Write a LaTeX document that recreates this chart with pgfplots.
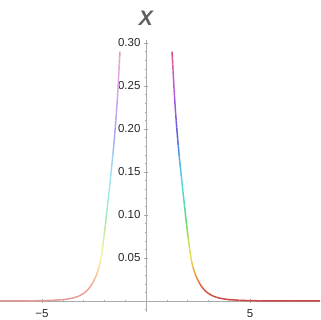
\documentclass[border=0pt]{standalone}
\usepackage{pgfplots}
\usepackage{pgfplotstable}
\pgfplotsset{compat=1.18}
\usepackage{fontspec}
\setmainfont{Liberation Sans}
\definecolor{axgray}{RGB}{170,170,170}
\definecolor{lblgray}{RGB}{95,95,95}
\pgfplotsset{
  colormap={rainb}{
    rgb255(0pt)=(205,70,70)
    rgb255(10pt)=(218,80,65)
    rgb255(20pt)=(230,105,60)
    rgb255(30pt)=(240,150,60)
    rgb255(50pt)=(235,225,80)
    rgb255(70pt)=(180,225,80)
    rgb255(90pt)=(100,215,100)
    rgb255(110pt)=(80,220,170)
    rgb255(140pt)=(80,215,225)
    rgb255(170pt)=(80,160,225)
    rgb255(190pt)=(85,95,215)
    rgb255(210pt)=(125,90,225)
    rgb255(240pt)=(180,90,220)
    rgb255(270pt)=(210,90,185)
    rgb255(290pt)=(215,75,120)
  },
  colormap={rainblight}{
    rgb255(0pt)=(227,153,153)
    rgb255(10pt)=(235,159,151)
    rgb255(20pt)=(241,173,148)
    rgb255(30pt)=(247,197,148)
    rgb255(50pt)=(246,242,159)
    rgb255(70pt)=(214,242,159)
    rgb255(90pt)=(170,233,170)
    rgb255(110pt)=(159,236,208)
    rgb255(140pt)=(159,233,242)
    rgb255(170pt)=(159,203,242)
    rgb255(190pt)=(162,167,237)
    rgb255(210pt)=(184,164,242)
    rgb255(240pt)=(214,164,236)
    rgb255(270pt)=(230,164,224)
    rgb255(290pt)=(233,156,181)
  }
}
\pgfplotstableread{
x y
1.25 0.290
1.26 0.286
1.27 0.282
1.285 0.275
1.30 0.268
1.325 0.257
1.35 0.246
1.375 0.236
1.40 0.227
1.425 0.218
1.45 0.210
1.475 0.202
1.50 0.195
1.525 0.188
1.55 0.181
1.575 0.1745
1.60 0.168
1.625 0.162
1.65 0.156
1.675 0.1505
1.70 0.145
1.725 0.139
1.75 0.133
1.775 0.1275
1.80 0.122
1.825 0.1165
1.85 0.111
1.875 0.1055
1.90 0.100
1.925 0.0945
1.95 0.089
1.975 0.084
2.00 0.079
2.025 0.074
2.05 0.069
2.075 0.0645
2.10 0.060
2.125 0.056
2.15 0.052
2.175 0.0485
2.20 0.045
2.25 0.040
2.30 0.036
2.35 0.0323
2.40 0.029
2.45 0.0264
2.50 0.024
2.55 0.0217
2.60 0.0195
2.70 0.016
2.80 0.013
2.90 0.0108
3.00 0.0088
3.20 0.0060
3.40 0.0042
3.60 0.0030
3.80 0.0022
4.00 0.0016
4.50 0.0008
5.00 0.0004
5.50 0.0002
6.00 0.0001
7.00 0.00003
8.40 0.0
}\rightbranch
\pgfplotstableread{
x y
-7.10 0.0
-7.00 0.00003
-6.00 0.0001
-5.50 0.0002
-5.00 0.0004
-4.50 0.0008
-4.00 0.0016
-3.80 0.0022
-3.60 0.0030
-3.40 0.0042
-3.20 0.0060
-3.00 0.0088
-2.90 0.0108
-2.80 0.013
-2.70 0.016
-2.60 0.0195
-2.55 0.0217
-2.50 0.024
-2.45 0.0264
-2.40 0.029
-2.35 0.0323
-2.30 0.036
-2.25 0.040
-2.20 0.045
-2.175 0.0485
-2.15 0.052
-2.125 0.056
-2.10 0.060
-2.075 0.0645
-2.05 0.069
-2.025 0.074
-2.00 0.079
-1.975 0.084
-1.95 0.089
-1.925 0.0945
-1.90 0.100
-1.875 0.1055
-1.85 0.111
-1.825 0.1165
-1.80 0.122
-1.775 0.1275
-1.75 0.133
-1.725 0.139
-1.70 0.145
-1.675 0.1505
-1.65 0.156
-1.625 0.162
-1.60 0.168
-1.575 0.1745
-1.55 0.181
-1.525 0.188
-1.50 0.195
-1.475 0.202
-1.45 0.210
-1.425 0.218
-1.40 0.227
-1.375 0.236
-1.35 0.246
-1.325 0.257
-1.30 0.268
-1.285 0.275
-1.27 0.282
-1.26 0.286
-1.25 0.290
}\leftbranch
\begin{document}
\begin{tikzpicture}
\useasboundingbox (-146pt,-19pt) rectangle (174pt,301pt);
\begin{axis}[
  at={(0,0)}, anchor=origin,
  x=20.8pt, y=860pt,
  xmin=-7.02, xmax=8.37, ymin=-0.0128, ymax=0.303,
  axis lines=middle,
  axis line style={axgray, line width=0.6pt, -},
  tick style={axgray, line width=0.5pt},
  major tick length=4pt, minor tick length=2.5pt,
  xtick={-5,5}, xticklabels={−5,5},
  minor xtick={-7,-6,-4,-3,-2,-1,1,2,3,4,6,7,8},
  ytick={0.05,0.10,0.15,0.20,0.25,0.30},
  yticklabels={0.05,0.10,0.15,0.20,0.25,0.30},
  minor ytick={-0.01,0.01,0.02,0.03,0.04,0.06,0.07,0.08,0.09,0.11,0.12,0.13,0.14,0.16,0.17,0.18,0.19,0.21,0.22,0.23,0.24,0.26,0.27,0.28,0.29},
  ticklabel style={font=\fontsize{11.5}{13}\selectfont, text=black!85},
  x tick label style={yshift=-3pt},
  point meta min=0, point meta max=0.29,
  ylabel={X},
  every axis y label/.style={at={(axis cs:0,0.3285)}, anchor=center,
     font=\fontsize{21}{24}\selectfont\bfseries\itshape, text=lblgray},
]
\addplot[mesh, colormap name=rainblight, point meta=\thisrow{y}, line width=1.5pt] table[x=x,y=y] {\leftbranch};
\addplot[mesh, colormap name=rainb, point meta=\thisrow{y}, line width=1.5pt] table[x=x,y=y] {\rightbranch};
\end{axis}
\end{tikzpicture}
\end{document}
